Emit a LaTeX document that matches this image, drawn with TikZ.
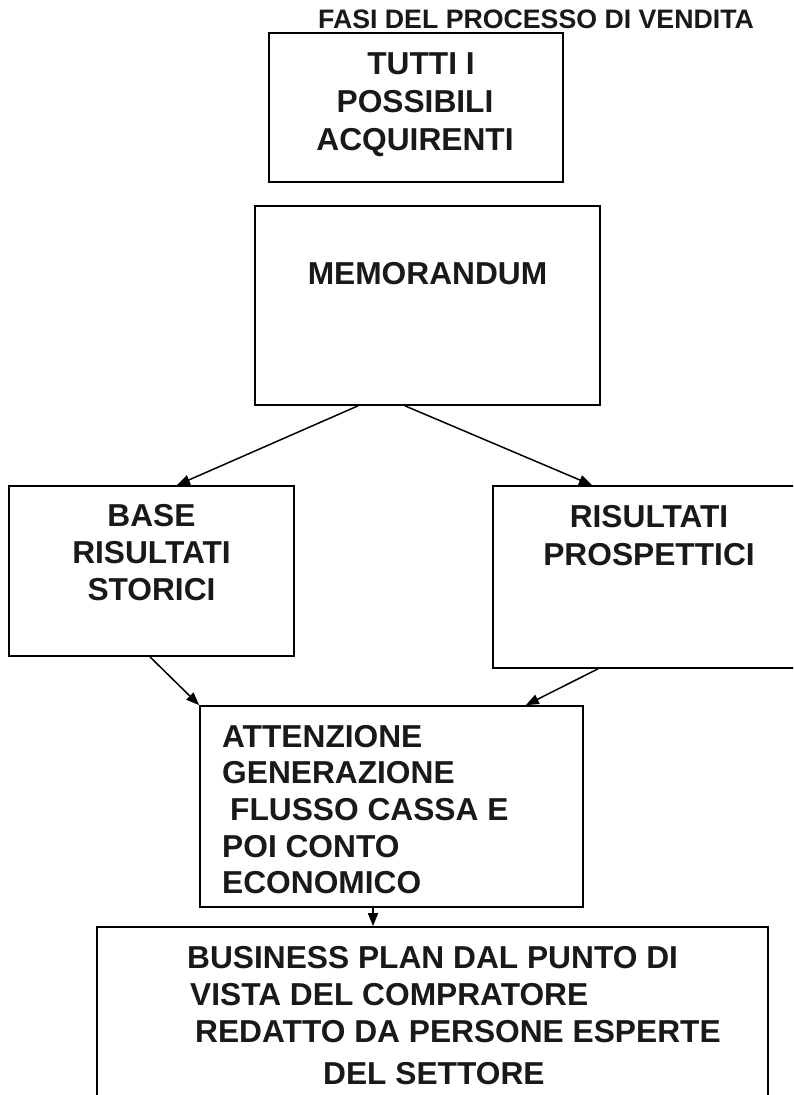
\documentclass[tikz,border=0pt]{standalone}
\usepackage{fontspec}
\setmainfont{Liberation Sans}
\usetikzlibrary{arrows.meta}
\begin{document}
\begin{tikzpicture}[x=1pt,y=-1pt,
  box/.style={draw=black, line width=1.7pt, inner sep=0pt, fill=none},
  txt/.style={font=\bfseries\fontsize{31.7}{38}\selectfont, inner sep=0pt, text=black!90},
  ttl/.style={font=\bfseries\fontsize{26.7}{32}\selectfont, inner sep=0pt, text=black!90},
  arr/.style={draw=black, line width=1.5pt, -{Triangle[length=13pt,width=10pt]}}]
\useasboundingbox (0,0) rectangle (793,1095);
\clip (0,0) rectangle (793,1095);
% title
\node[ttl, anchor=base west] (title) at (318,28) {FASI DEL PROCESSO DI VENDITA};
% boxes
\node[box, minimum width=294pt, minimum height=149pt] (acq) at (416,107.5) {};
\node[box, minimum width=345pt, minimum height=199pt] (memo) at (427.5,305.5) {};
\node[box, minimum width=285pt, minimum height=170pt] (base) at (151.5,571) {};
\node[box, minimum width=312pt, minimum height=182pt] (pros) at (649,577) {};
\node[box, minimum width=383pt, minimum height=201pt] (att) at (391.5,806.5) {};
\node[box, minimum width=671pt, minimum height=190pt] (bp) at (432.5,1022) {};
% texts
\node[txt, anchor=base] (acq1) at (421,74) {TUTTI I};
\node[txt, anchor=base] (acq2) at (415,112) {POSSIBILI};
\node[txt, anchor=base] (acq3) at (415,150) {ACQUIRENTI};
\node[txt, anchor=base] (memo1) at (427.5,284) {MEMORANDUM};
\node[txt, anchor=base] (base1) at (151.5,526) {BASE};
\node[txt, anchor=base] (base2) at (151.5,563) {RISULTATI};
\node[txt, anchor=base] (base3) at (151.5,600) {STORICI};
\node[txt, anchor=base] (pros1) at (649,527) {RISULTATI};
\node[txt, anchor=base] (pros2) at (649,565) {PROSPETTICI};
\node[txt, anchor=base west] (att1) at (222,747) {ATTENZIONE};
\node[txt, anchor=base west] (att2) at (222,783) {GENERAZIONE};
\node[txt, anchor=base west] (att3) at (230,820) {FLUSSO CASSA E};
\node[txt, anchor=base west] (att4) at (222,857) {POI CONTO};
\node[txt, anchor=base west] (att5) at (222,893) {ECONOMICO};
\node[txt, anchor=base west] (bp1) at (187,968) {BUSINESS PLAN DAL PUNTO DI};
\node[txt, anchor=base west] (bp2) at (190,1005) {VISTA DEL COMPRATORE};
\node[txt, anchor=base west] (bp3) at (195,1042) {REDATTO DA PERSONE ESPERTE};
\node[txt, anchor=base west] (bp4) at (323,1084) {DEL SETTORE};
% connectors
\draw[arr] ([xshift=-69.5pt]memo.south) -- ([xshift=25.5pt]base.north);
\draw[arr] ([xshift=-22.5pt]memo.south) -- ([xshift=-57pt]pros.north);
\draw[arr] ([xshift=-1.5pt]base.south) -- (att.north west);
\draw[arr] ([xshift=-51pt]pros.south) -- ([xshift=-58pt]att.north east);
\draw[arr] ([xshift=-18.5pt]att.south) -- ([xshift=-59.5pt]bp.north);
\end{tikzpicture}
\end{document}
